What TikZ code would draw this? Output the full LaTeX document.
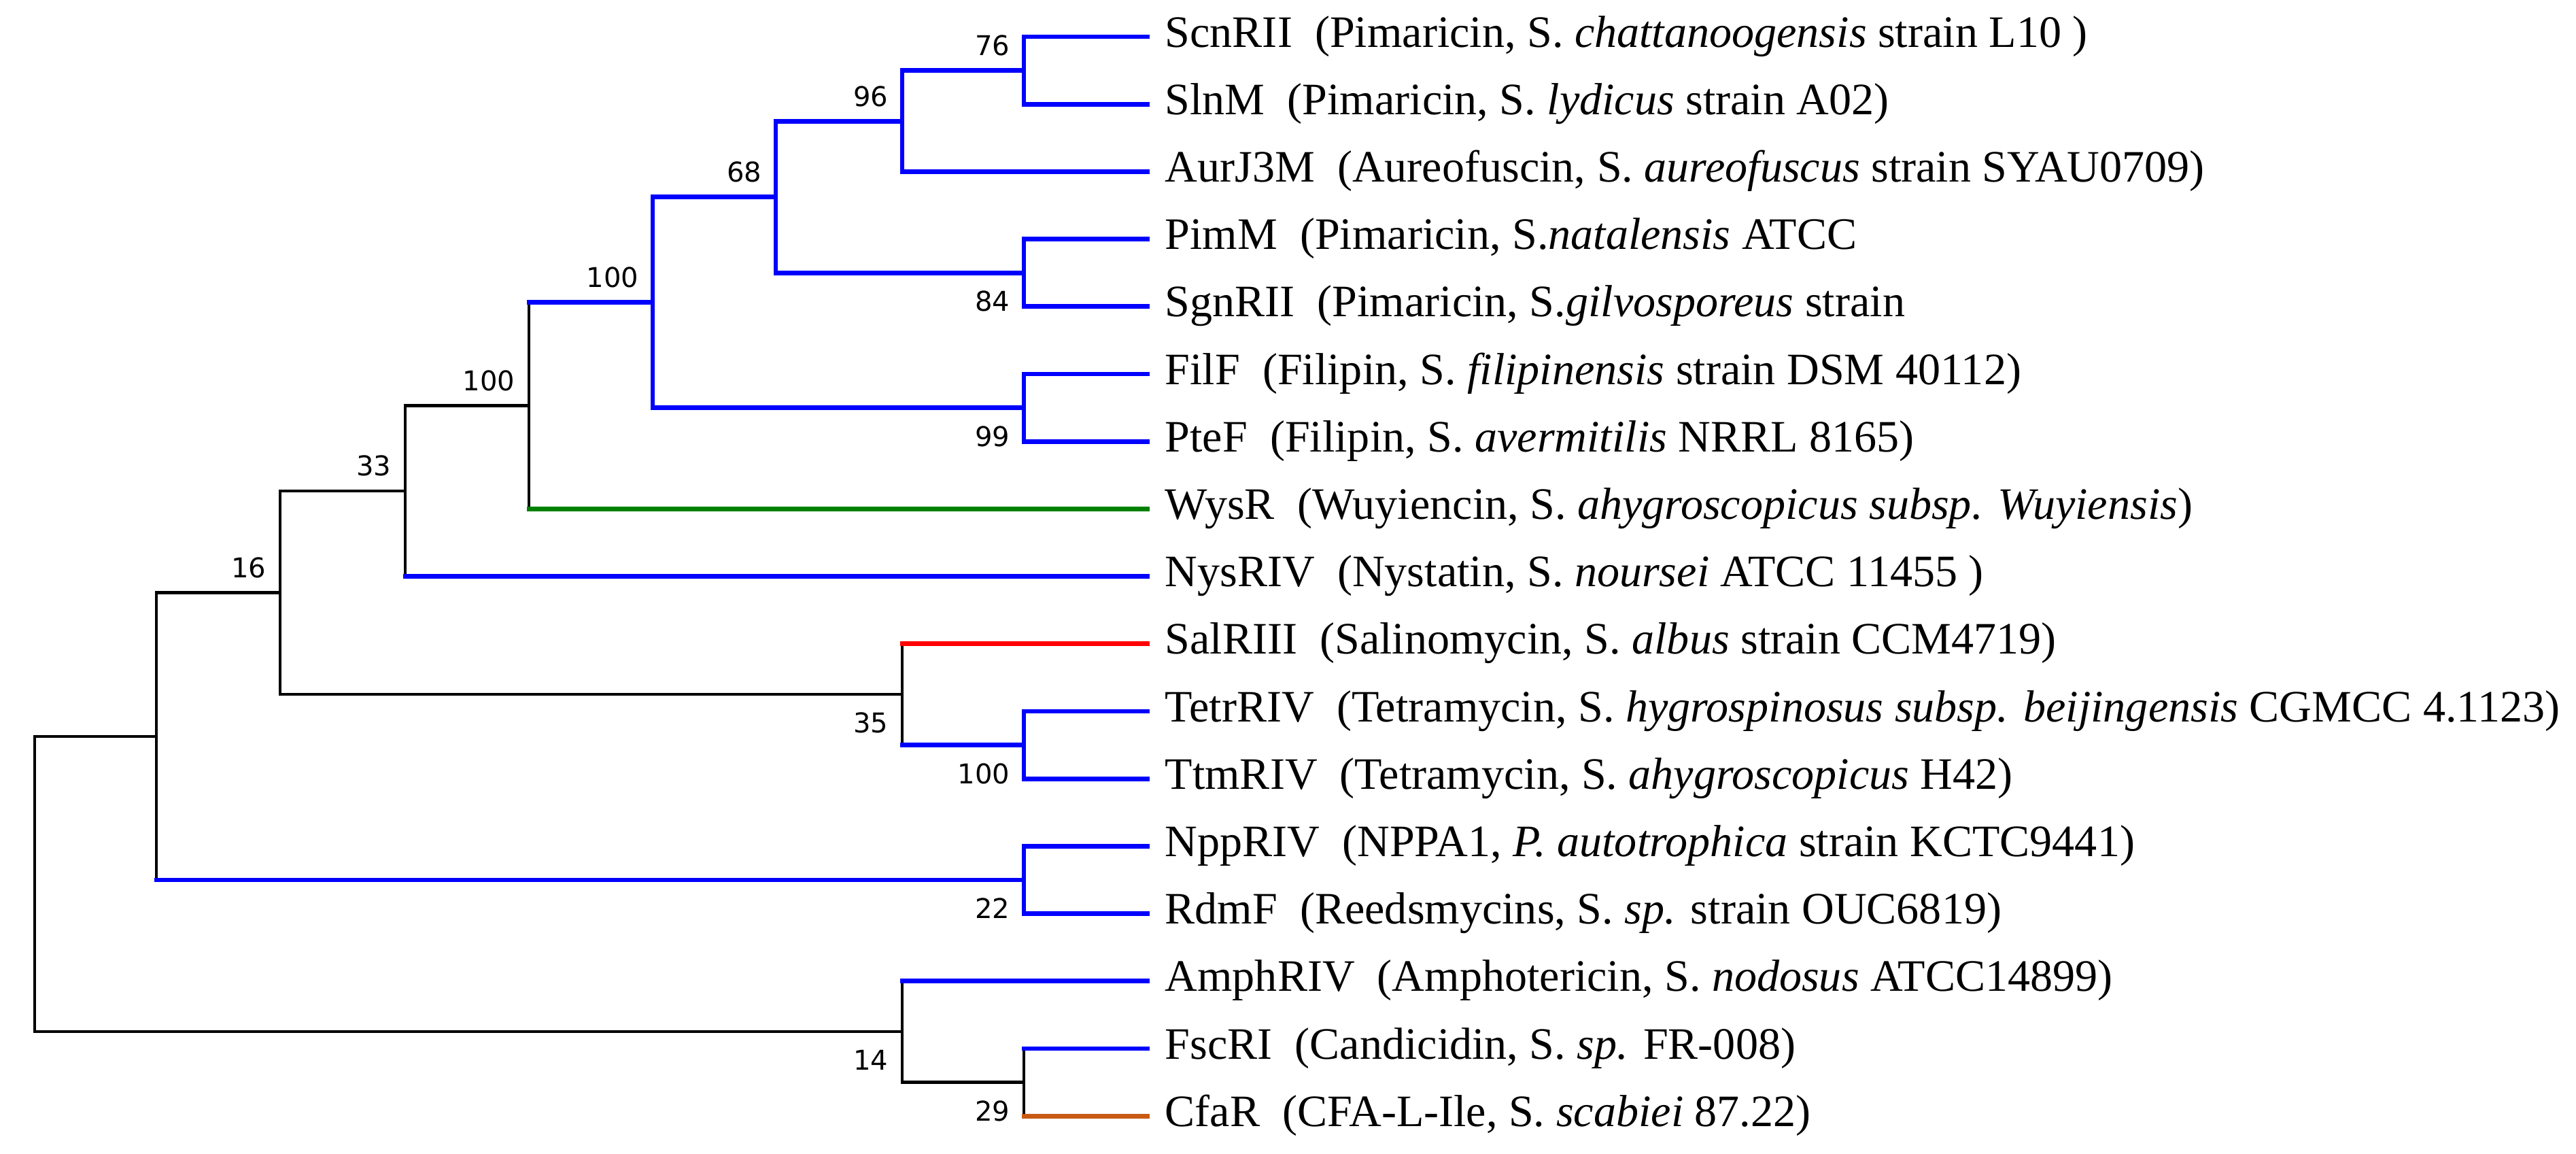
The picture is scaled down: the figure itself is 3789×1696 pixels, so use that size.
\documentclass[tikz,border=0pt]{standalone}
\usepackage{fontspec}
\setmainfont{Liberation Serif}
\newfontfamily\bootfont{DejaVu Sans}
\usepackage{tikz}
\definecolor{wysgreen}{RGB}{0,128,0}
\definecolor{cfaorange}{RGB}{200,90,20}

\begin{document}
\begin{tikzpicture}[x=0.01cm,y=-0.01cm,
    branch/.style={line width=0.045cm,line cap=rect,black},
    hot branch/.style={line width=0.068cm,line cap=rect},
    leaf label/.style={anchor=base west,inner sep=0pt,xshift=0.25cm,yshift=-0.15cm,
                       font=\fontsize{18.8}{22}\selectfont},
    boot above/.style={anchor=south east,inner sep=0pt,xshift=-0.2cm,yshift=0.21cm,
                       font=\bootfont\fontsize{11.4}{13}\selectfont},
    boot below/.style={anchor=north east,inner sep=0pt,xshift=-0.2cm,yshift=-0.26cm,
                       font=\bootfont\fontsize{11.4}{13}\selectfont}]

  \useasboundingbox (0,0) rectangle (3789,1696);

  %Leaves%
  \coordinate (ScnRII)  at (1688,54);
  \coordinate (SlnM)    at (1688,153.2);
  \coordinate (AurJ3M)  at (1688,252.4);
  \coordinate (PimM)    at (1688,351.6);
  \coordinate (SgnRII)  at (1688,450.8);
  \coordinate (FilF)    at (1688,550);
  \coordinate (PteF)    at (1688,649.2);
  \coordinate (WysR)    at (1688,748.4);
  \coordinate (NysRIV)  at (1688,847.6);
  \coordinate (SalRIII) at (1688,946.8);
  \coordinate (TetrRIV) at (1688,1046);
  \coordinate (TtmRIV)  at (1688,1145.2);
  \coordinate (NppRIV)  at (1688,1244.4);
  \coordinate (RdmF)    at (1688,1343.6);
  \coordinate (AmphRIV) at (1688,1442.8);
  \coordinate (FscRI)   at (1688,1542);
  \coordinate (CfaR)    at (1688,1641.2);

  %Inner nodes%
  \coordinate (n76)  at (1506,103.6);
  \coordinate (n96)  at (1327,178.5);
  \coordinate (n84)  at (1506,401.2);
  \coordinate (n68)  at (1141,289.8);
  \coordinate (n99)  at (1506,599.6);
  \coordinate (n100a) at (960,444.7);
  \coordinate (n100b) at (778,596.5);
  \coordinate (n33)  at (596,722);
  \coordinate (n100c) at (1506,1095.6);
  \coordinate (n35)  at (1327,1021.2);
  \coordinate (n16)  at (412,871.6);
  \coordinate (n22)  at (1506,1294);
  \coordinate (nA)   at (230,1082.8);
  \coordinate (n29)  at (1506,1591.6);
  \coordinate (n14)  at (1327,1517.2);
  \coordinate (root) at (51,1300);

  %Black branches%
  \draw[branch] (n100b |- n100a) -- (n100b |- WysR);
  \draw[branch] (n33 |- n100b) -- (n33 |- NysRIV);
  \draw[branch] (n33 |- n100b) -- (n100b);
  \draw[branch] (n35 |- SalRIII) -- (n35 |- n100c);
  \draw[branch] (n16 |- n33) -- (n16 |- n35);
  \draw[branch] (n16 |- n33) -- (n33);
  \draw[branch] (n16 |- n35) -- (n35);
  \draw[branch] (nA |- n16) -- (nA |- n22);
  \draw[branch] (nA |- n16) -- (n16);
  \draw[branch] (n29 |- FscRI) -- (n29 |- CfaR);
  \draw[branch] (n14 |- AmphRIV) -- (n14 |- n29);
  \draw[branch] (n14 |- n29) -- (n29);
  \draw[branch] (root |- nA) -- (root |- n14);
  \draw[branch] (root |- nA) -- (nA);
  \draw[branch] (root |- n14) -- (n14);

  %Blue branches%
  \draw[hot branch,blue] (n76 |- ScnRII) -- (n76 |- SlnM);
  \draw[hot branch,blue] (n76 |- ScnRII) -- (ScnRII);
  \draw[hot branch,blue] (n76 |- SlnM) -- (SlnM);
  \draw[hot branch,blue] (n96 |- n76) -- (n96 |- AurJ3M);
  \draw[hot branch,blue] (n96 |- n76) -- (n76);
  \draw[hot branch,blue] (n96 |- AurJ3M) -- (AurJ3M);
  \draw[hot branch,blue] (n84 |- PimM) -- (n84 |- SgnRII);
  \draw[hot branch,blue] (n84 |- PimM) -- (PimM);
  \draw[hot branch,blue] (n84 |- SgnRII) -- (SgnRII);
  \draw[hot branch,blue] (n68 |- n96) -- (n68 |- n84);
  \draw[hot branch,blue] (n68 |- n96) -- (n96);
  \draw[hot branch,blue] (n68 |- n84) -- (n84);
  \draw[hot branch,blue] (n99 |- FilF) -- (n99 |- PteF);
  \draw[hot branch,blue] (n99 |- FilF) -- (FilF);
  \draw[hot branch,blue] (n99 |- PteF) -- (PteF);
  \draw[hot branch,blue] (n100a |- n68) -- (n100a |- n99);
  \draw[hot branch,blue] (n100a |- n68) -- (n68);
  \draw[hot branch,blue] (n100a |- n99) -- (n99);
  \draw[hot branch,blue] (n100b |- n100a) -- (n100a);
  \draw[hot branch,blue] (n33 |- NysRIV) -- (NysRIV);
  \draw[hot branch,blue] (n100c |- TetrRIV) -- (n100c |- TtmRIV);
  \draw[hot branch,blue] (n100c |- TetrRIV) -- (TetrRIV);
  \draw[hot branch,blue] (n100c |- TtmRIV) -- (TtmRIV);
  \draw[hot branch,blue] (n35 |- n100c) -- (n100c);
  \draw[hot branch,blue] (n22 |- NppRIV) -- (n22 |- RdmF);
  \draw[hot branch,blue] (n22 |- NppRIV) -- (NppRIV);
  \draw[hot branch,blue] (n22 |- RdmF) -- (RdmF);
  \draw[hot branch,blue] (nA |- n22) -- (n22);
  \draw[hot branch,blue] (n14 |- AmphRIV) -- (AmphRIV);
  \draw[hot branch,blue] (n29 |- FscRI) -- (FscRI);

  %Other colours%
  \draw[hot branch,wysgreen] (n100b |- WysR) -- (WysR);
  \draw[hot branch,red] (n35 |- SalRIII) -- (SalRIII);
  \draw[hot branch,cfaorange] (n29 |- CfaR) -- (CfaR);

  %Bootstrap values%
  \node[boot above] (b76) at (n76) {76};
  \node[boot above] (b96) at (n96) {96};
  \node[boot above] (b68) at (n68) {68};
  \node[boot above] (b100a) at (n100a) {100};
  \node[boot above] (b100b) at (n100b) {100};
  \node[boot above] (b33) at (n33) {33};
  \node[boot above] (b16) at (n16) {16};
  \node[boot below] (b84) at (n84) {84};
  \node[boot below] (b99) at (n99) {99};
  \node[boot below] (b35) at (n35) {35};
  \node[boot below] (b100c) at (n100c) {100};
  \node[boot below] (b22) at (n22) {22};
  \node[boot below] (b14) at (n14) {14};
  \node[boot below] (b29) at (n29) {29};

  %Leaf names%
  \node[leaf label] (ScnRII-lab) at (ScnRII) {ScnRII\enspace(Pimaricin, S.~\textit{chattanoogensis} strain L10 )};
  \node[leaf label] (SlnM-lab) at (SlnM) {SlnM\enspace(Pimaricin, S.~\textit{lydicus} strain A02)};
  \node[leaf label] (AurJ3M-lab) at (AurJ3M) {AurJ3M\enspace(Aureofuscin, S.~\textit{aureofuscus} strain SYAU0709)};
  \node[leaf label] (PimM-lab) at (PimM) {PimM\enspace(Pimaricin, S.\textit{natalensis} ATCC};
  \node[leaf label] (SgnRII-lab) at (SgnRII) {SgnRII\enspace(Pimaricin, S.\textit{gilvosporeus} strain};
  \node[leaf label] (FilF-lab) at (FilF) {FilF\enspace(Filipin, S.~\textit{filipinensis} strain DSM 40112)};
  \node[leaf label] (PteF-lab) at (PteF) {PteF\enspace(Filipin, S.~\textit{avermitilis} NRRL 8165)};
  \node[leaf label] (WysR-lab) at (WysR) {WysR\enspace(Wuyiencin, S.~\textit{ahygroscopicus subsp. Wuyiensis})};
  \node[leaf label] (NysRIV-lab) at (NysRIV) {NysRIV\enspace(Nystatin, S.~\textit{noursei} ATCC 11455 )};
  \node[leaf label] (SalRIII-lab) at (SalRIII) {SalRIII\enspace(Salinomycin, S.~\textit{albus} strain CCM4719)};
  \node[leaf label] (TetrRIV-lab) at (TetrRIV) {TetrRIV\enspace(Tetramycin, S.~\textit{hygrospinosus subsp. beijingensis} CGMCC 4.1123)};
  \node[leaf label] (TtmRIV-lab) at (TtmRIV) {TtmRIV\enspace(Tetramycin, S.~\textit{ahygroscopicus} H42)};
  \node[leaf label] (NppRIV-lab) at (NppRIV) {NppRIV\enspace(NPPA1, \textit{P.~autotrophica} strain KCTC9441)};
  \node[leaf label] (RdmF-lab) at (RdmF) {RdmF\enspace(Reedsmycins, S.~\textit{sp.} strain OUC6819)};
  \node[leaf label] (AmphRIV-lab) at (AmphRIV) {AmphRIV\enspace(Amphotericin, S.~\textit{nodosus} ATCC14899)};
  \node[leaf label] (FscRI-lab) at (FscRI) {FscRI\enspace(Candicidin, S.~\textit{sp.} FR-008)};
  \node[leaf label] (CfaR-lab) at (CfaR) {CfaR\enspace(CFA-L-Ile, S.~\textit{scabiei} 87.22)};
\end{tikzpicture}
\end{document}
